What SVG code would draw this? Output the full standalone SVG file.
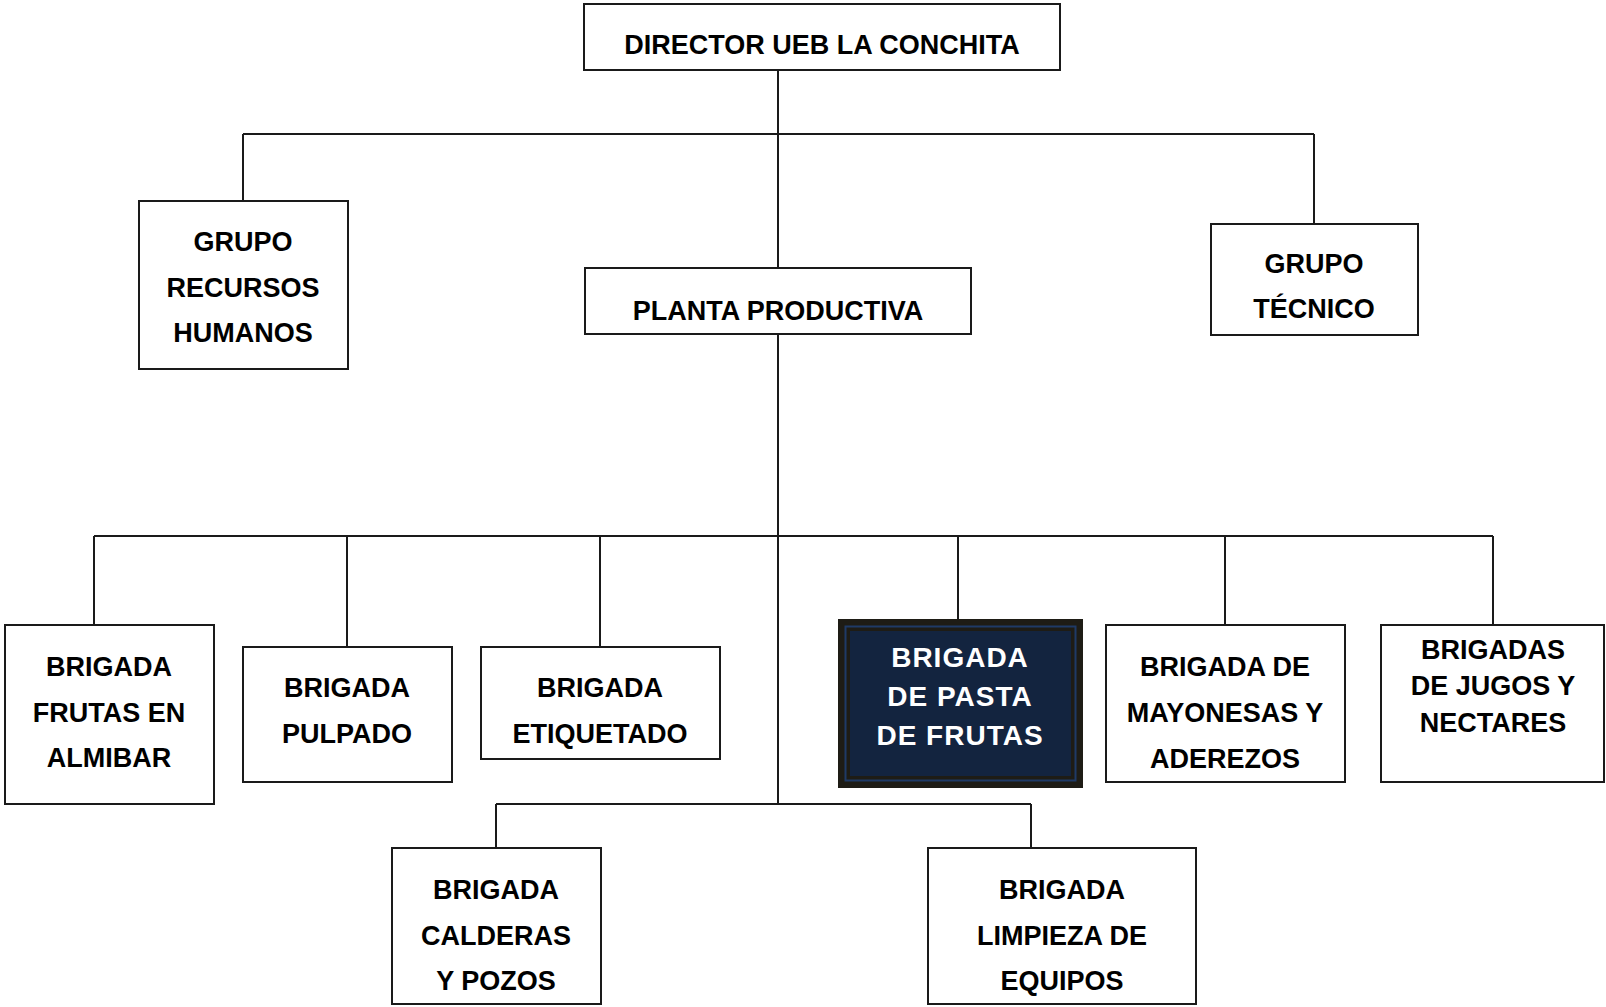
<svg xmlns="http://www.w3.org/2000/svg" width="1606" height="1007" viewBox="0 0 1606 1007">
<style>
.box{fill:#fff;stroke:#1a1a1a;stroke-width:2}
.t{font-family:"Liberation Sans",Arial,sans-serif;font-weight:bold;font-size:27px;fill:#000;text-anchor:middle}
.w{fill:#fff;font-size:28px;letter-spacing:1px}
.c{fill:none;stroke:#1a1a1a;stroke-width:2}
</style>
<rect width="1606" height="1007" fill="#fff"/>
<g id="connectors">
<path class="c" d="M778,70V268M243,134H1314M243,134V201M1314,134V224"/>
<path class="c" d="M778,334V804M94,536H1493M94,536V625M347,536V647M600,536V647M958,536V619M1225,536V625M1493,536V625"/>
<path class="c" d="M496,804H1031M496,804V848M1031,804V848"/>
</g>
<g id="director">
<rect class="box" x="584" y="4" width="476" height="66"/>
<text class="t" x="822" y="54">DIRECTOR UEB LA CONCHITA</text>
</g>
<g id="grupo-rrhh">
<rect class="box" x="139" y="201" width="209" height="168"/>
<text class="t" x="243" y="251">GRUPO</text>
<text class="t" x="243" y="297">RECURSOS</text>
<text class="t" x="243" y="342">HUMANOS</text>
</g>
<g id="planta">
<rect class="box" x="585" y="268" width="386" height="66"/>
<text class="t" x="778" y="320">PLANTA PRODUCTIVA</text>
</g>
<g id="grupo-tecnico">
<rect class="box" x="1211" y="224" width="207" height="111"/>
<text class="t" x="1314" y="273">GRUPO</text>
<text class="t" x="1314" y="318">TÉCNICO</text>
</g>
<g id="frutas-almibar">
<rect class="box" x="5" y="625" width="209" height="179"/>
<text class="t" x="109" y="676">BRIGADA</text>
<text class="t" x="109" y="722">FRUTAS EN</text>
<text class="t" x="109" y="767">ALMIBAR</text>
</g>
<g id="pulpado">
<rect class="box" x="243" y="647" width="209" height="135"/>
<text class="t" x="347" y="697">BRIGADA</text>
<text class="t" x="347" y="743">PULPADO</text>
</g>
<g id="etiquetado">
<rect class="box" x="481" y="647" width="239" height="112"/>
<text class="t" x="600" y="697">BRIGADA</text>
<text class="t" x="600" y="743">ETIQUETADO</text>
</g>
<g id="pasta-frutas">
<rect x="838" y="619" width="245" height="169" fill="#1e1c15"/>
<rect x="845.5" y="626.5" width="230" height="154" fill="#1e1c15" stroke="#1f3a66" stroke-width="2"/>
<rect x="850" y="631" width="221" height="145" fill="#13243f"/>
<text class="t w" x="960" y="667">BRIGADA</text>
<text class="t w" x="960" y="706">DE PASTA</text>
<text class="t w" x="960" y="745">DE FRUTAS</text>
</g>
<g id="mayonesas">
<rect class="box" x="1106" y="625" width="239" height="157"/>
<text class="t" x="1225" y="676">BRIGADA DE</text>
<text class="t" x="1225" y="722">MAYONESAS Y</text>
<text class="t" x="1225" y="768">ADEREZOS</text>
</g>
<g id="jugos">
<rect class="box" x="1381" y="625" width="223" height="157"/>
<text class="t" x="1493" y="659">BRIGADAS</text>
<text class="t" x="1493" y="695">DE JUGOS Y</text>
<text class="t" x="1493" y="732">NECTARES</text>
</g>
<g id="calderas">
<rect class="box" x="392" y="848" width="209" height="156"/>
<text class="t" x="496" y="899">BRIGADA</text>
<text class="t" x="496" y="945">CALDERAS</text>
<text class="t" x="496" y="990">Y POZOS</text>
</g>
<g id="limpieza">
<rect class="box" x="928" y="848" width="268" height="156"/>
<text class="t" x="1062" y="899">BRIGADA</text>
<text class="t" x="1062" y="945">LIMPIEZA DE</text>
<text class="t" x="1062" y="990">EQUIPOS</text>
</g>
</svg>
